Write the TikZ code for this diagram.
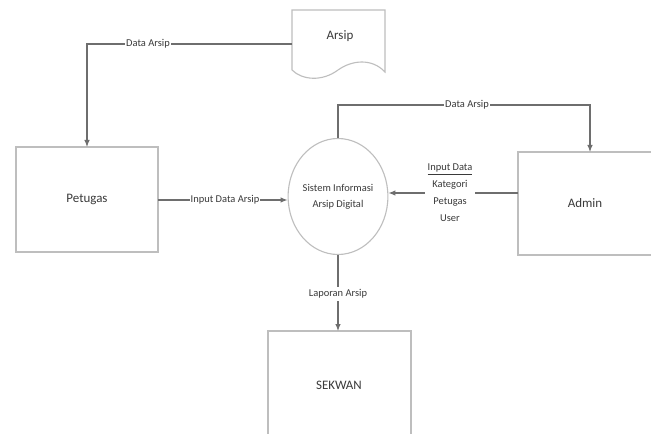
\documentclass[tikz,border=0pt]{standalone}
\usepackage{fontspec}
\setmainfont{Carlito}
\usetikzlibrary{arrows.meta,shapes.geometric}
\definecolor{boxline}{HTML}{BEBEBE}
\definecolor{flowline}{HTML}{6E6E6E}
\definecolor{ink}{HTML}{3A3A3A}
\tikzset{
  x=1bp, y=-1bp,
  entity/.style={draw=boxline, line width=1.3bp, fill=white, inner sep=0pt},
  proc/.style={ellipse, draw=boxline, line width=1.1bp, inner sep=0pt,
    minimum width=88bp, minimum height=116bp, font=\fontsize{10.5}{16}\selectfont,
    text=ink, align=center},
  big/.style={font=\fontsize{13}{16}\selectfont, text=ink},
  flow/.style={draw=flowline, line width=1.1bp, -{Latex[length=7bp,width=5.5bp]}},
  lbl/.style={fill=white, inner sep=1bp, font=\fontsize{10.5}{12}\selectfont, text=ink}
}
\begin{document}
\begin{tikzpicture}
\clip (0,0) rectangle (651,434);
\fill[white] (0,0) rectangle (651,434);

% external entities
\draw[entity] (16,147) rectangle (158,252);
\node[big] (petugas) at (87,199.5) {Petugas};
\coordinate (petugasTop) at (87,147);
\coordinate (petugasRight) at (158,200);

\draw[entity] (518,152) rectangle (662,255);
\node[big] (admin) at (585,203) {Admin};
\coordinate (adminTop) at (590,152);
\coordinate (adminLeft) at (518,193);

\draw[entity] (268,331) rectangle (411,445);
\node[big] (sekwan) at (339,385) {SEKWAN};
\coordinate (sekwanTop) at (338,331);

% document store
\draw[draw=boxline, line width=1.1bp, fill=white]
  (292,10) -- (385,10) -- (385,72)
  .. controls (372,58) and (352,60) .. (338,70)
  .. controls (322,82) and (302,80) .. (292,70) -- cycle;
\node[big] (arsip) at (340,36) {Arsip};
\coordinate (arsipLeft) at (292,44);

% process
\node[proc] (sis) at (338,196.5) {Sistem Informasi\\Arsip Digital};

% flows
\coordinate (c1) at (87,44);
\draw[flow] (arsipLeft) -- (c1) -- (petugasTop);
\node[lbl] (l1) at (148,44) {Data Arsip};

\draw[flow] (petugasRight) -- (sis.west |- petugasRight);
\node[lbl] (l2) at (225,200) {Input Data Arsip};

\coordinate (c2) at (338,105);
\coordinate (c3) at (590,105);
\draw[flow] (sis.north) -- (c2) -- (c3) -- (adminTop);
\node[lbl] (l3) at (467,105) {Data Arsip};

\draw[flow] (adminLeft) -- (sis.east |- adminLeft);
\node[lbl, align=center, font=\fontsize{10.5}{17}\selectfont, inner sep=3bp] (l4) at (450,193)
  {\underline{Input Data}\\Kategori\\Petugas\\User};

\draw[flow] (sis.south) -- (sekwanTop);
\node[lbl, inner sep=3bp] (l5) at (338,294) {Laporan Arsip};
\end{tikzpicture}
\end{document}
